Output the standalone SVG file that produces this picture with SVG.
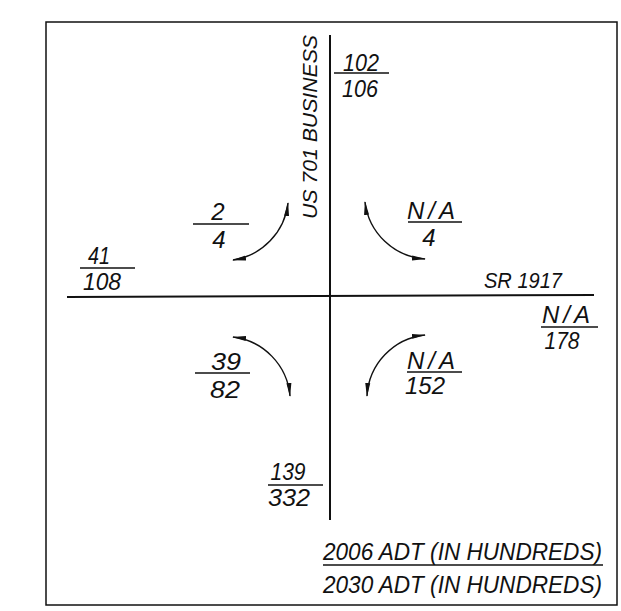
<svg xmlns="http://www.w3.org/2000/svg" width="621" height="611" viewBox="0 0 621 611">
<style>
  .t { font-family: "Liberation Sans", Arial, sans-serif; font-style: italic; fill: #111; }
  .f { font-size: 24px; text-anchor: middle; }
  .bar { stroke: #111; stroke-width: 1.5; fill: none; }
  .road { stroke: #111; stroke-width: 2; fill: none; }
  .arc { stroke: #111; stroke-width: 1.4; fill: none; marker-start: url(#ah); marker-end: url(#ah); }
</style>
<defs>
  <marker id="ah" markerUnits="userSpaceOnUse" markerWidth="15" markerHeight="8" refX="13" refY="4" orient="auto-start-reverse">
    <path d="M0,1.5 L14,4 L0,6.5 z" fill="#111"/>
  </marker>
</defs>
<rect x="46" y="22" width="571" height="583" fill="#fff" stroke="#111" stroke-width="1.5"/>

<g id="roads">
  <line class="road" x1="330" y1="35" x2="330" y2="520"/>
  <line class="road" x1="67" y1="297" x2="594" y2="295"/>
  <text class="t" font-size="21" transform="translate(317,219) rotate(-90)" textLength="184" lengthAdjust="spacingAndGlyphs">US 701 BUSINESS</text>
  <text class="t" font-size="22" x="484" y="288" textLength="78" lengthAdjust="spacingAndGlyphs">SR 1917</text>
</g>

<g id="connectors">
  <path class="arc" d="M288,203 A65,65 0 0 1 233,260"/>
  <path class="arc" d="M365,202 A65,65 0 0 0 425,259"/>
  <path class="arc" d="M233,337 A65,65 0 0 1 290,396"/>
  <path class="arc" d="M425,335 A65,65 0 0 0 367,396"/>
</g>

<g id="north">
  <text class="t f" x="361" y="71" textLength="36" lengthAdjust="spacingAndGlyphs">102</text>
  <line class="bar" x1="334" y1="73" x2="389" y2="73"/>
  <text class="t f" x="360" y="97" textLength="36" lengthAdjust="spacingAndGlyphs">106</text>
</g>

<g id="nw-turn">
  <text class="t f" x="218" y="220">2</text>
  <line class="bar" x1="193" y1="224" x2="249" y2="224"/>
  <text class="t f" x="219" y="248">4</text>
</g>

<g id="ne-turn">
  <text class="t f" x="431" y="219" textLength="48" lengthAdjust="spacing">N/A</text>
  <line class="bar" x1="408" y1="222" x2="462" y2="222"/>
  <text class="t f" x="429" y="246">4</text>
</g>

<g id="west">
  <text class="t f" x="99" y="264" textLength="22" lengthAdjust="spacingAndGlyphs">41</text>
  <line class="bar" x1="80" y1="268" x2="135" y2="268"/>
  <text class="t f" x="102" y="290" textLength="38" lengthAdjust="spacingAndGlyphs">108</text>
</g>

<g id="east">
  <text class="t f" x="566" y="323" textLength="48" lengthAdjust="spacing">N/A</text>
  <line class="bar" x1="541" y1="327" x2="598" y2="327"/>
  <text class="t f" x="562" y="349" textLength="35" lengthAdjust="spacingAndGlyphs">178</text>
</g>

<g id="sw-turn">
  <text class="t f" x="226" y="370" textLength="30" lengthAdjust="spacingAndGlyphs">39</text>
  <line class="bar" x1="195" y1="373" x2="250" y2="373"/>
  <text class="t f" x="225" y="398" textLength="30" lengthAdjust="spacingAndGlyphs">82</text>
</g>

<g id="se-turn">
  <text class="t f" x="431" y="369" textLength="48" lengthAdjust="spacing">N/A</text>
  <line class="bar" x1="407" y1="372" x2="462" y2="372"/>
  <text class="t f" x="425" y="394" textLength="40" lengthAdjust="spacingAndGlyphs">152</text>
</g>

<g id="south">
  <text class="t f" x="288" y="480" textLength="35" lengthAdjust="spacingAndGlyphs">139</text>
  <line class="bar" x1="268" y1="485" x2="323" y2="485"/>
  <text class="t f" x="289" y="506" textLength="42" lengthAdjust="spacingAndGlyphs">332</text>
</g>

<g id="legend">
  <text class="t" font-size="24" x="323" y="560" textLength="279" lengthAdjust="spacingAndGlyphs">2006 ADT (IN HUNDREDS)</text>
  <line class="bar" x1="323" y1="565" x2="603" y2="565"/>
  <text class="t" font-size="24" x="323" y="593" textLength="279" lengthAdjust="spacingAndGlyphs">2030 ADT (IN HUNDREDS)</text>
</g>
</svg>
